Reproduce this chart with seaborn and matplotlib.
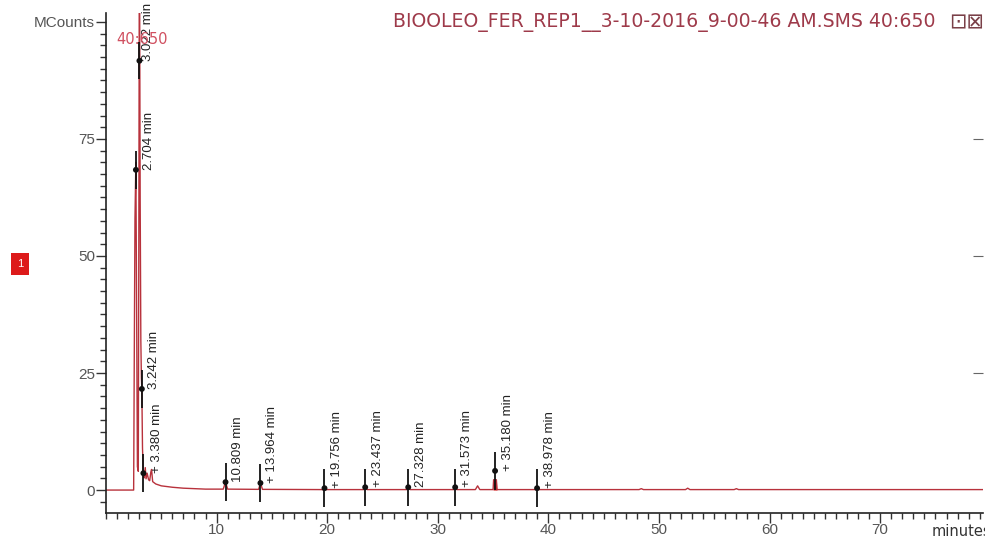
import matplotlib
matplotlib.use("Agg")
import matplotlib.pyplot as plt
from matplotlib.ticker import MultipleLocator, FixedLocator, FixedFormatter
import pandas as pd
import seaborn as sns

# Total ion chromatogram trace: retention time (min) and intensity (MCounts)
trace_time = [0.0, 2.50, 2.55, 2.62, 2.70, 2.77, 2.84, 2.92, 2.97, 3.02,
              3.09, 3.15, 3.20, 3.24, 3.30, 3.36, 3.38, 3.45, 3.55, 3.62,
              3.72, 3.85, 3.95, 4.05, 4.12, 4.22, 4.50, 5.00, 6.00, 7.00,
              8.00, 9.00, 10.60, 10.809, 11.00, 13.80, 13.964, 14.15, 19.60, 19.756,
              19.90, 23.30, 23.437, 23.60, 27.20, 27.328, 27.50, 31.45, 31.573, 31.70,
              33.40, 33.60, 33.80, 35.00, 35.05, 35.18, 35.30, 35.35, 38.85, 38.978,
              39.10, 48.20, 48.40, 48.60, 52.40, 52.60, 52.80, 56.80, 57.00, 57.20,
              79.50]
trace_counts = [0.0, 0.0, 25.0, 58.0, 70.0, 38.0, 5.0, 4.0, 55.0, 125.0,
                62.0, 32.0, 24.0, 21.6, 9.0, 4.5, 3.6, 2.6, 4.8, 2.4,
                3.6, 2.2, 2.0, 3.8, 4.4, 1.8, 1.3, 0.9, 0.6, 0.4,
                0.3, 0.2, 0.2, 1.7, 0.2, 0.15, 1.5, 0.15, 0.1, 0.4,
                0.1, 0.1, 0.6, 0.1, 0.1, 0.6, 0.1, 0.1, 0.6, 0.1,
                0.1, 0.9, 0.1, 0.1, 2.2, 2.2, 2.2, 0.1, 0.1, 0.4,
                0.1, 0.1, 0.3, 0.1, 0.1, 0.4, 0.1, 0.1, 0.3, 0.1,
                0.1]

# Integrated peaks: apex time, marker height and label
peak_times = [2.704, 3.022, 3.242, 3.380, 10.809, 13.964,
              19.756, 23.437, 27.328, 31.573, 35.180, 38.978]
peak_heights = [68.4, 91.7, 21.6, 3.6, 1.7, 1.5,
                0.4, 0.6, 0.6, 0.6, 4.1, 0.4]
peak_labels = ["2.704 min", "3.022 min", "3.242 min", "+ 3.380 min",
               "10.809 min", "+ 13.964 min", "+ 19.756 min", "+ 23.437 min",
               "27.328 min", "+ 31.573 min", "+ 35.180 min", "+ 38.978 min"]

y_ticks = [0, 25, 50, 75, 100]
y_tick_labels = ["0", "25", "50", "75", "MCounts"]
x_ticks = [10, 20, 30, 40, 50, 60, 70]
x_tick_labels = ["10", "20", "30", "40", "50", "60", "70"]

file_title = "BIOOLEO_FER_REP1__3-10-2016_9-00-46 AM.SMS 40:650"
mass_range = "40:650"
x_unit = "minutes"
trace_number = "1"

# pixel offsets of the peak labels from their marker dot
label_dx = [13, 9, 12, 14, 12, 12, 13, 13, 13, 12, 13, 13]
label_dy = [0] * len(peak_times)

sns.set_style("ticks")
plt.rcParams["font.family"] = ["Liberation Sans", "DejaVu Sans"]

trace_color = "#b8323c"
tick_color = "#555555"

fig = plt.figure(figsize=(9.85, 5.4), dpi=100)
ax = fig.add_axes([106 / 985, 27 / 540, 877 / 985, 500 / 540])

trace = pd.DataFrame({"time": trace_time, "counts": trace_counts})
sns.lineplot(data=trace, x="time", y="counts", estimator=None, sort=False,
             color=trace_color, linewidth=1.0, ax=ax)

# filled peak area around 35.18 min
seg = trace[(trace["time"] >= 35.0) & (trace["time"] <= 35.35)]
ax.fill_between(seg["time"], 0, seg["counts"], color="#d01818", linewidth=0)

# peak markers: short vertical bar with a dot at the apex
peaks = pd.DataFrame({"time": peak_times, "height": peak_heights})
ax.vlines(peaks["time"], peaks["height"] - 4, peaks["height"] + 4,
          color="#111111", linewidth=1.3, zorder=4)
sns.scatterplot(data=peaks, x="time", y="height", color="#111111", s=18,
                edgecolor="none", zorder=5, ax=ax)

for t, h, lab, dx, dy in zip(peak_times, peak_heights, peak_labels, label_dx, label_dy):
    ax.annotate(lab, xy=(t, h), xytext=(dx, dy), textcoords="offset pixels",
                rotation=90, ha="center", va="bottom", fontsize=9.5,
                color="#222222", annotation_clip=False)

ax.set_xlim(0, 79.3)
ax.set_ylim(-4.9, 101.9)
ax.set_xlabel("")
ax.set_ylabel("")

ax.xaxis.set_major_locator(FixedLocator(x_ticks))
ax.xaxis.set_major_formatter(FixedFormatter(x_tick_labels))
ax.xaxis.set_minor_locator(MultipleLocator(1))
ax.yaxis.set_major_locator(FixedLocator(y_ticks))
ax.yaxis.set_major_formatter(FixedFormatter(y_tick_labels))
ax.yaxis.set_minor_locator(MultipleLocator(2.5))

ax.tick_params(axis="both", which="major", direction="out", length=7, width=1,
               color="#333333", labelcolor=tick_color, labelsize=11)
ax.tick_params(axis="x", which="major", pad=0)
ax.tick_params(axis="y", which="major", pad=1)
ax.tick_params(axis="both", which="minor", direction="out", length=4, width=1,
               color="#333333")
for side in ("top", "right"):
    ax.spines[side].set_visible(False)
for side in ("left", "bottom"):
    ax.spines[side].set_color("#222222")
    ax.spines[side].set_linewidth(1.2)

# inward ticks on the right edge
sec = ax.secondary_yaxis("right")
sec.set_yticks([25, 50, 75])
sec.tick_params(direction="in", length=7, color="#666666", labelright=False)
sec.spines["right"].set_visible(False)

# header texts
fig.text(393 / 985, 1 - 22 / 540, file_title, color="#9e3a4a", fontsize=13.6,
         family=["DejaVu Sans"], ha="left", va="center")
fig.text(967 / 985, 1 - 22 / 540, "\u22a1\u22a0", color="#7a4048", fontsize=15,
         family=["DejaVu Sans"], ha="center", va="center")
fig.text(142 / 985, 1 - 40 / 540, mass_range, color="#d05060", fontsize=10.5,
         family=["DejaVu Sans"], ha="center", va="center", zorder=6)
fig.text(932 / 985, 1 - 532 / 540, x_unit, color="#333333", fontsize=10.5,
         family=["DejaVu Sans"], ha="left", va="center")
fig.text(20 / 985, 1 - 264 / 540, trace_number, color="white", fontsize=8,
         ha="center", va="center",
         bbox=dict(boxstyle="square,pad=0.55", facecolor="#dd1a1a", edgecolor="none"))

fig.savefig("out.png", dpi=100)
